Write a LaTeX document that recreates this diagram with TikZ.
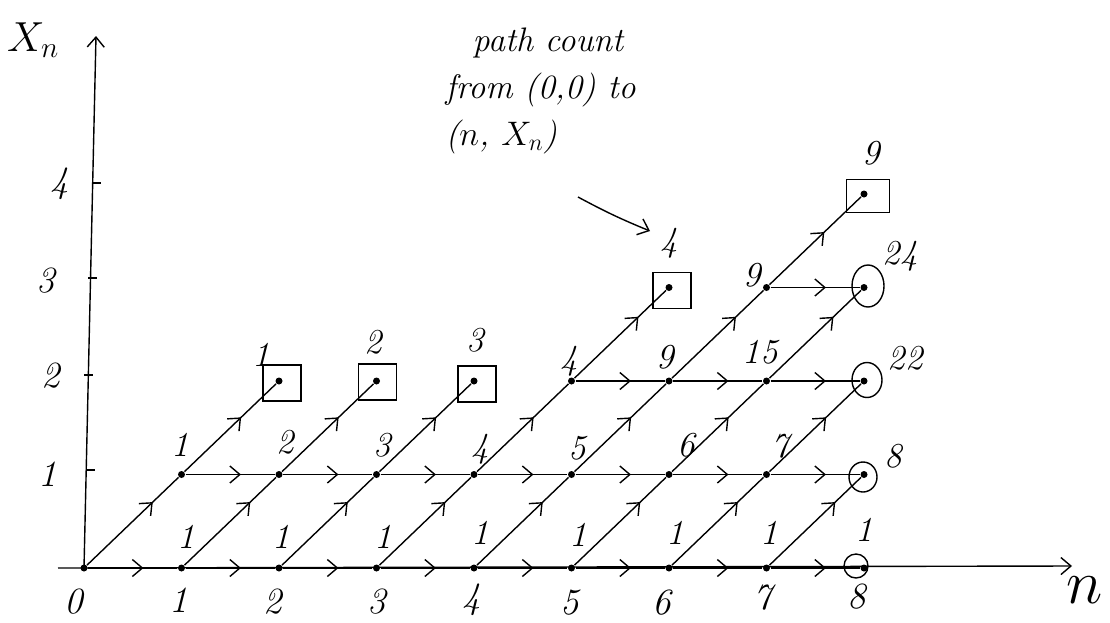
\RequirePackage{fix-cm}
\documentclass[tikz,border=0pt]{standalone}
\usepackage{fontspec}
\usetikzlibrary{arrows.meta,decorations.markings,shapes.geometric}
\begin{document}
\begin{tikzpicture}[x=1pt,y=-1pt,line width=1.4pt,
  barb/.style={-{Straight Barb[length=10pt,width=17pt]}},
  flow/.style={postaction={decorate},decoration={markings,
     mark=at position #1 with {\arrow{Straight Barb[length=10pt,width=17pt]}}}},
  flow/.default=0.62,
  dot/.style={circle,fill,inner sep=0pt,minimum size=7pt},
  cnt/.style={inner sep=0pt,font=\fontsize{35}{36}\selectfont\itshape},
  axlab/.style={inner sep=0pt,font=\fontsize{37}{38}\selectfont\itshape},
  boxed/.style={draw,rectangle,inner sep=0pt,minimum width=38pt,minimum height=36pt},
  ring/.style={draw,ellipse,inner sep=0pt}]
\useasboundingbox (0,0) rectangle (1110,622);

% axes
\coordinate (xl) at (58,568);
\coordinate (xr) at (1072,566);
\coordinate (yb) at (84,568);
\coordinate (yt) at (96,36);
\draw[barb] (xl) -- (xr);
\draw[barb] (yb) -- (yt);
\foreach \yy/\xx in {470/86,375/84,278/88,183/92}
  \draw (\xx,\yy) -- ++(9,0);

% axis labels
\node[inner sep=0pt,font=\fontsize{42}{42}\selectfont] (xnlab) at (33,40) {$X_n$};
\node[inner sep=0pt,font=\fontsize{62}{62}\selectfont] (nlab) at (1085,590) {$n$};
\foreach \t/\px/\py in {0/74/602,1/179/600,2/273/602,3/377/602,4/472/600,5/570/603,6/662/603,7/763/598,8/857/597}
  \node[axlab] (xt\t) at (\px,\py) {\t};
\foreach \t/\px/\py in {1/48/474,2/51/376,3/46/281,4/60/184}
  \node[axlab] (yt\t) at (\px,\py) {\t};

% lattice points
\foreach \n in {0,...,8} \node[dot] (p\n0) at (84+97.5*\n,568) {};
\foreach \n in {1,...,8} \node[dot] (p\n1) at (84+97.5*\n,474.5) {};
\foreach \n in {2,...,8} \node[dot] (p\n2) at (84+97.5*\n,381) {};
\foreach \n in {6,7,8} \node[dot] (p\n3) at (84+97.5*\n,287.5) {};
\node[dot] (p84) at (864,194) {};

% absorbing boxes
\node[boxed] (b22) at ([shift={(3,2)}]p22) {};
\node[boxed] (b32) at ([shift={(1,1)}]p32) {};
\node[boxed] (b42) at ([shift={(3,3)}]p42) {};
\node[boxed] (b63) at ([shift={(3,3)}]p63) {};
\node[boxed,minimum width=43pt,minimum height=33pt] (b84) at ([shift={(4,2)}]p84) {};

% final circles
\node[ring,minimum width=24pt,minimum height=24pt] (c80) at ([shift={(-8,-2)}]p80) {};
\node[ring,minimum width=28pt,minimum height=30pt] (c81) at ([shift={(-1,2.5)}]p81) {};
\node[ring,minimum width=30pt,minimum height=35pt] (c82) at ([shift={(3,-1)}]p82) {};
\node[ring,minimum width=32pt,minimum height=42pt] (c83) at ([shift={(4,-1.5)}]p83) {};

% horizontal moves
\foreach \n in {0,...,7}{\pgfmathtruncatemacro\m{\n+1}
  \draw[flow] (p\n0) -- (p\m0);}
\foreach \n in {1,...,7}{\pgfmathtruncatemacro\m{\n+1}
  \draw[flow] (p\n1) -- (p\m1);}
\foreach \n in {5,6,7}{\pgfmathtruncatemacro\m{\n+1}
  \draw[flow] (p\n2) -- (p\m2);}
\draw[flow] (p73) -- (p83);

% diagonal moves
\foreach \n in {0,...,7}{\pgfmathtruncatemacro\m{\n+1}
  \draw[flow=0.72] (p\n0) -- (p\m1);}
\foreach \n in {1,...,7}{\pgfmathtruncatemacro\m{\n+1}
  \draw[flow=0.62] (p\n1) -- (p\m2);}
\foreach \n in {5,6,7}{\pgfmathtruncatemacro\m{\n+1}
  \draw[flow=0.7] (p\n2) -- (p\m3);}
\draw[flow=0.6] (p73) -- (p84);

% path counts
\foreach \i/\px/\py in {1/186/537,2/281/537,3/383/537,4/480/533,5/578/535,6/675/533,7/769/533,8/864/530}
  \node[cnt] (r0c\i) at (\px,\py) {1};
\foreach \v/\px/\py in {1/180/445,2/285/442,3/382/445,4/480/449,5/577/448,6/686/445,7/780/446,8/893/456}
  \node[cnt] (r1c\v) at (\px,\py) {\v};
\foreach \k/\v/\px/\py in {a/1/261/355,b/2/373/342,c/3/475/340,d/4/569/361,e/9/665/357,f/15/760/352,g/22/905/358}
  \node[cnt] (r2\k) at (\px,\py) {\v};
\foreach \k/\v/\px/\py in {a/4/669/243,b/9/752/275,c/24/900/256}
  \node[cnt] (r3\k) at (\px,\py) {\v};
\node[cnt] (r4a) at (871,153) {9};

% annotation
\node[inner sep=0pt,anchor=base west,align=left,
      font=\fontsize{34}{47}\selectfont\itshape] (note) at (445,145)
  {\hspace*{27pt}path count\\ from (0,0) to\\ ($n$, $X_n$)};
\coordinate (annS) at (578,197);
\coordinate (annE) at (650,231);
\draw[barb] (annS) to[bend right=3] (annE);
\end{tikzpicture}
\end{document}
